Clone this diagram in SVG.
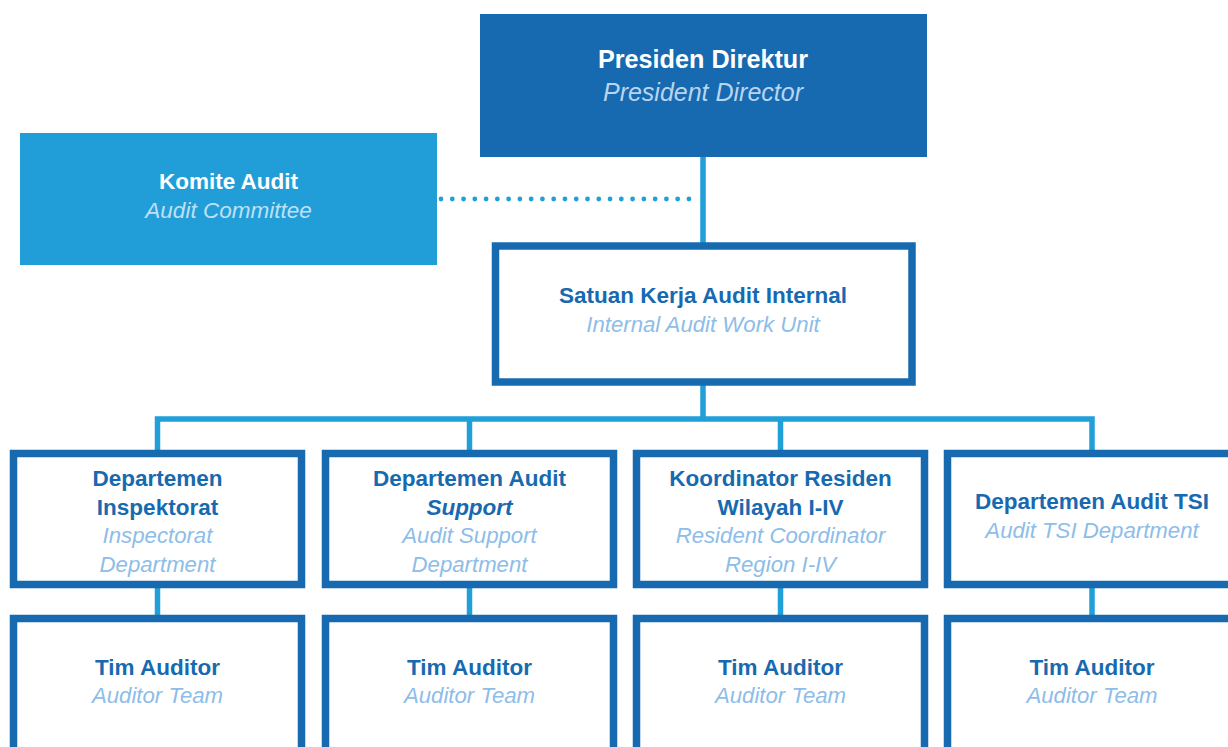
<svg xmlns="http://www.w3.org/2000/svg" width="1228" height="747" viewBox="0 0 1228 747">
<style>
.box{fill:#ffffff;stroke:#1769b0;stroke-width:7.5}
.con{stroke:#219fd9;stroke-width:5.5;fill:none}
.b{font-family:"Liberation Sans",Arial,sans-serif;font-weight:bold;font-size:22.5px;fill:#1769b0;text-anchor:middle}
.i{font-family:"Liberation Sans",Arial,sans-serif;font-style:italic;font-size:22.2px;fill:#8dbde8;text-anchor:middle}
</style>
<rect width="1228" height="747" fill="#ffffff"/>
<g id="connectors">
<line class="con" x1="703" y1="157" x2="703" y2="243"/>
<line x1="441" y1="199" x2="689" y2="199" stroke="#219fd9" stroke-width="4.8" stroke-linecap="round" stroke-dasharray="0 11.27"/>
<line class="con" x1="703" y1="385" x2="703" y2="419"/>
<polyline class="con" points="157.5,451 157.5,419 1092,419 1092,451"/>
<line class="con" x1="469.5" y1="419" x2="469.5" y2="451"/>
<line class="con" x1="780.5" y1="419" x2="780.5" y2="451"/>
<line class="con" x1="157.5" y1="588" x2="157.5" y2="616"/>
<line class="con" x1="469.5" y1="588" x2="469.5" y2="616"/>
<line class="con" x1="780.5" y1="588" x2="780.5" y2="616"/>
<line class="con" x1="1092" y1="588" x2="1092" y2="616"/>
</g>
<g id="presiden-direktur">
<rect x="480" y="14" width="447" height="143" fill="#1769b0"/>
<text x="703" y="68" font-family="Liberation Sans,Arial,sans-serif" font-weight="bold" font-size="25.2px" fill="#ffffff" text-anchor="middle">Presiden Direktur</text>
<text x="703" y="100.5" font-family="Liberation Sans,Arial,sans-serif" font-style="italic" font-size="25px" fill="#b8d5f0" text-anchor="middle">President Director</text>
</g>
<g id="komite-audit">
<rect x="20" y="133" width="417" height="132" fill="#219ed8"/>
<text x="228.5" y="189" font-family="Liberation Sans,Arial,sans-serif" font-weight="bold" font-size="22.5px" fill="#ffffff" text-anchor="middle">Komite Audit</text>
<text x="228.5" y="218" font-family="Liberation Sans,Arial,sans-serif" font-style="italic" font-size="22.5px" fill="#bfe0f5" text-anchor="middle">Audit Committee</text>
</g>
<g id="skai">
<rect class="box" x="495.5" y="246" width="416.5" height="136"/>
<text class="b" x="703" y="303">Satuan Kerja Audit Internal</text>
<text class="i" x="703" y="332">Internal Audit Work Unit</text>
</g>
<g id="dept-inspektorat">
<rect class="box" x="13.5" y="453.5" width="288" height="131"/>
<text class="b" x="157.5" y="486">Departemen</text>
<text class="b" x="157.5" y="515">Inspektorat</text>
<text class="i" x="157.5" y="543">Inspectorat</text>
<text class="i" x="157.5" y="572">Department</text>
</g>
<g id="dept-audit-support">
<rect class="box" x="325.5" y="453.5" width="288" height="131"/>
<text class="b" x="469.5" y="486">Departemen Audit</text>
<text class="b" x="469.5" y="515" font-style="italic">Support</text>
<text class="i" x="469.5" y="543">Audit Support</text>
<text class="i" x="469.5" y="572">Department</text>
</g>
<g id="koordinator-residen">
<rect class="box" x="636.5" y="453.5" width="288" height="131"/>
<text class="b" x="780.5" y="486">Koordinator Residen</text>
<text class="b" x="780.5" y="515">Wilayah I-IV</text>
<text class="i" x="780.5" y="543">Resident Coordinator</text>
<text class="i" x="780.5" y="572">Region I-IV</text>
</g>
<g id="dept-audit-tsi">
<rect class="box" x="947.5" y="453.5" width="288" height="131"/>
<text class="b" x="1092" y="509">Departemen Audit TSI</text>
<text class="i" x="1092" y="537.5">Audit TSI Department</text>
</g>
<g id="tim-auditor-1">
<rect class="box" x="13.5" y="618.5" width="288" height="200"/>
<text class="b" x="157.5" y="675">Tim Auditor</text>
<text class="i" x="157.5" y="703">Auditor Team</text>
</g>
<g id="tim-auditor-2">
<rect class="box" x="325.5" y="618.5" width="288" height="200"/>
<text class="b" x="469.5" y="675">Tim Auditor</text>
<text class="i" x="469.5" y="703">Auditor Team</text>
</g>
<g id="tim-auditor-3">
<rect class="box" x="636.5" y="618.5" width="288" height="200"/>
<text class="b" x="780.5" y="675">Tim Auditor</text>
<text class="i" x="780.5" y="703">Auditor Team</text>
</g>
<g id="tim-auditor-4">
<rect class="box" x="947.5" y="618.5" width="288" height="200"/>
<text class="b" x="1092" y="675">Tim Auditor</text>
<text class="i" x="1092" y="703">Auditor Team</text>
</g>
</svg>
